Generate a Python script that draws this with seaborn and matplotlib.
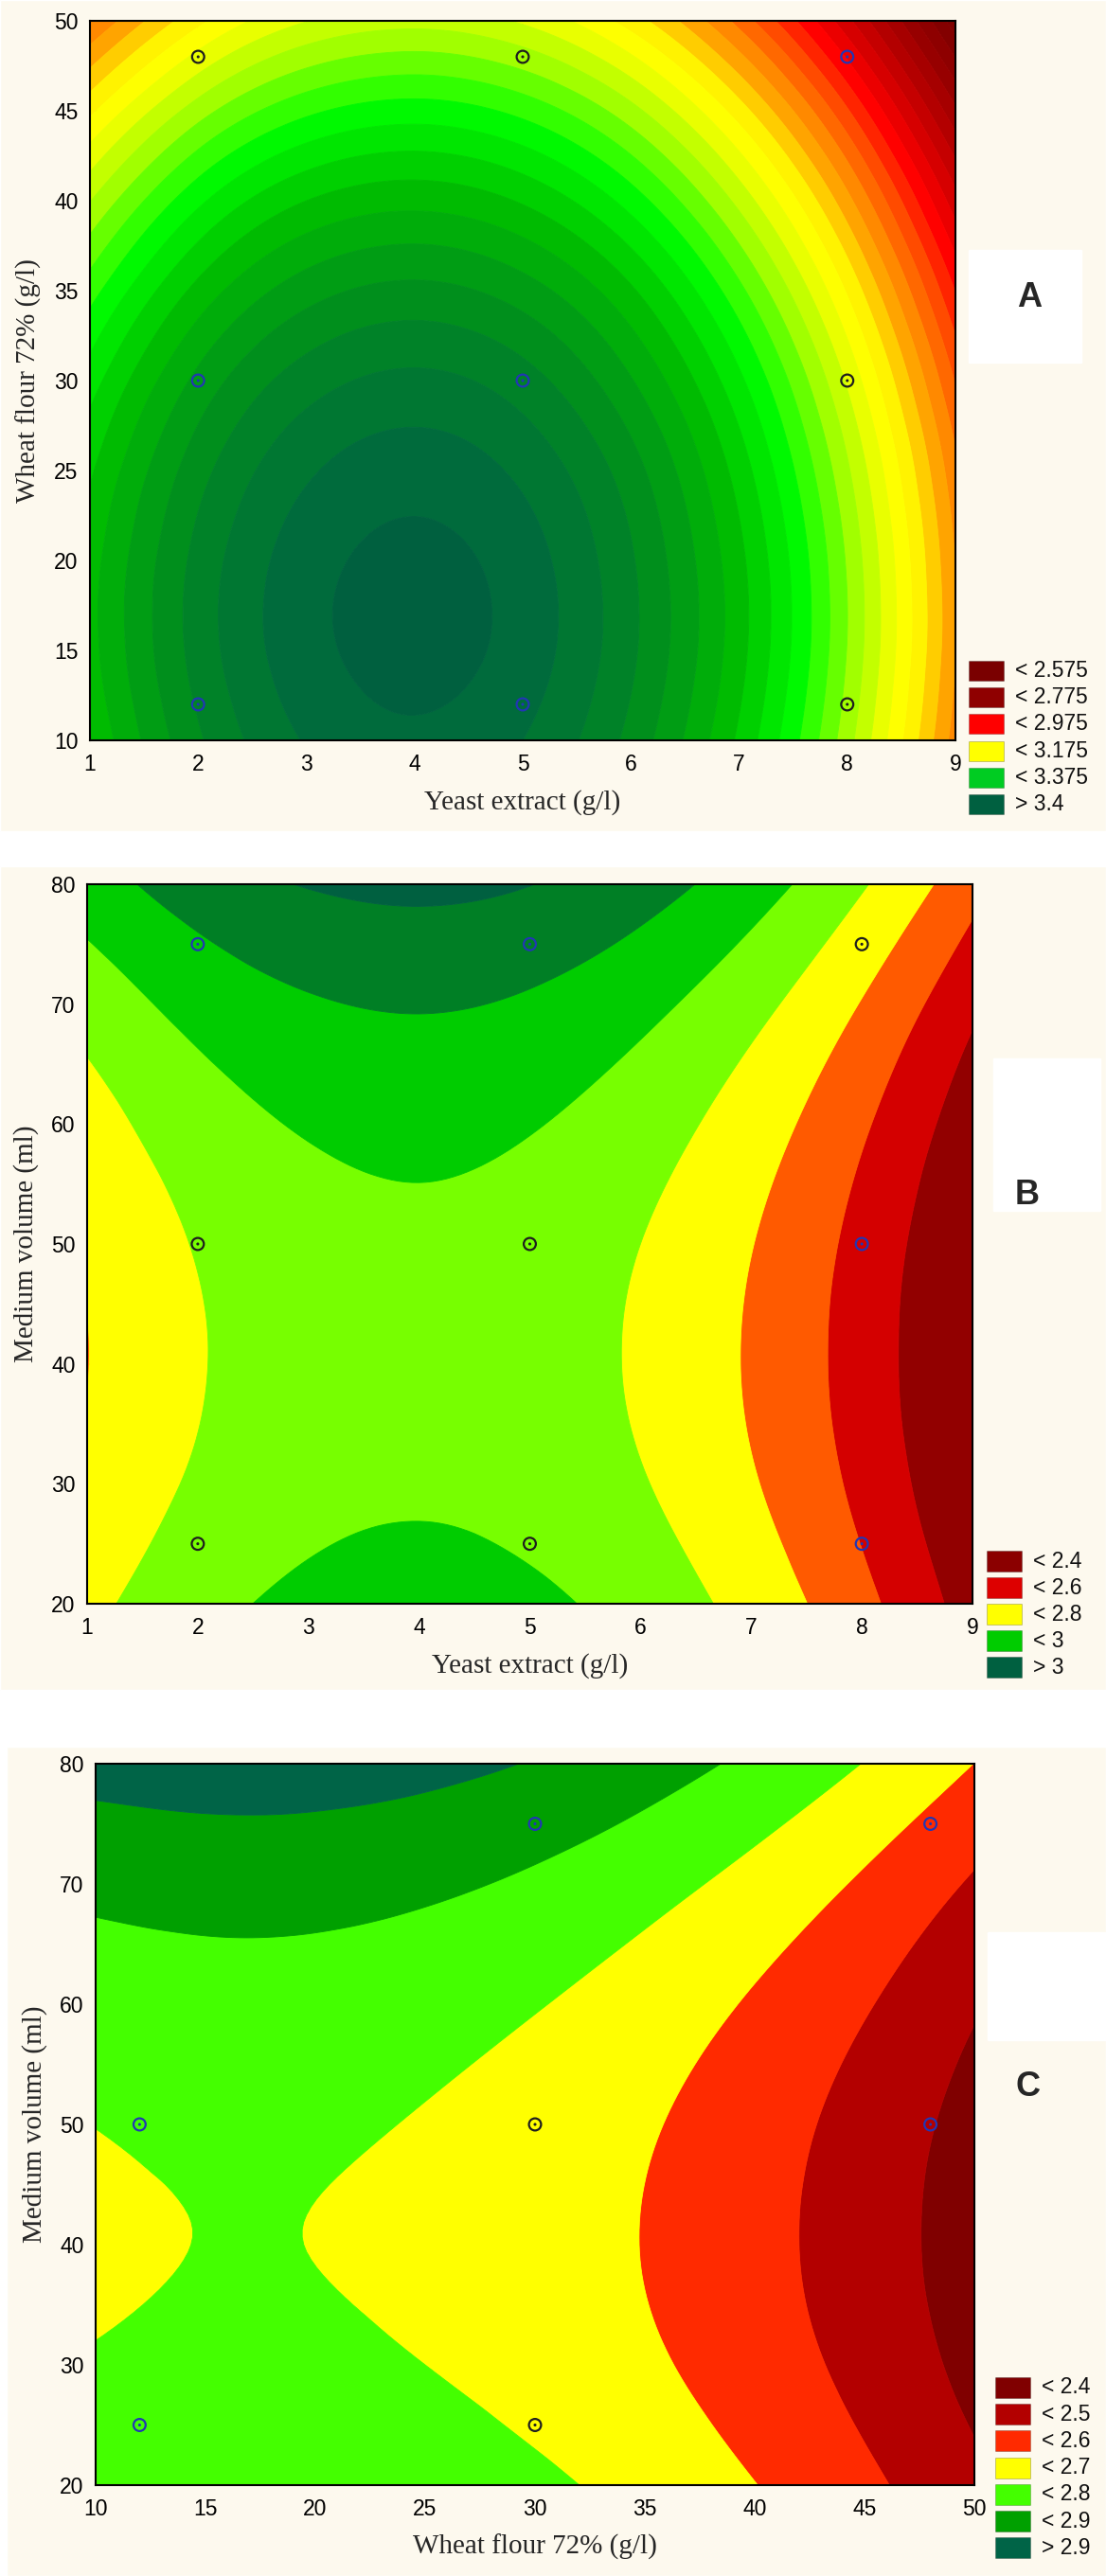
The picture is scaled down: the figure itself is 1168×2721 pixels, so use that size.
import numpy as np
import pandas as pd
import matplotlib
matplotlib.use("Agg")
import matplotlib.pyplot as plt
import matplotlib.tri as mtri
from matplotlib.colors import LinearSegmentedColormap
from matplotlib.patches import Rectangle
import seaborn as sns

# -----------------------------
# Panel A: yeast extract x wheat flour (fitted surface)
# -----------------------------
a_yeast = [1, 2, 3, 4, 5, 6, 7, 8, 9]
a_flour = [10, 15, 20, 25, 30, 35, 40, 45, 50]
a_z = [
    [3.227, 3.321, 3.377, 3.395, 3.375, 3.317, 3.220, 3.085, 2.913],
    [3.241, 3.335, 3.391, 3.409, 3.389, 3.330, 3.234, 3.099, 2.926],
    [3.239, 3.333, 3.389, 3.407, 3.387, 3.328, 3.232, 3.097, 2.924],
    [3.221, 3.315, 3.371, 3.389, 3.369, 3.311, 3.214, 3.079, 2.907],
    [3.188, 3.282, 3.338, 3.356, 3.336, 3.277, 3.181, 3.046, 2.873],
    [3.139, 3.233, 3.289, 3.307, 3.287, 3.229, 3.132, 2.997, 2.824],
    [3.074, 3.169, 3.225, 3.242, 3.222, 3.164, 3.067, 2.933, 2.760],
    [2.994, 3.088, 3.144, 3.162, 3.142, 3.084, 2.987, 2.853, 2.680],
    [2.898, 2.993, 3.049, 3.066, 3.046, 2.988, 2.891, 2.757, 2.584],
]
a_obs_x = [2, 5, 8, 2, 5, 8, 2, 5, 8]
a_obs_y = [48, 48, 48, 30, 30, 30, 12, 12, 12]
a_obs_side = ["below", "below", "above", "above", "above", "below", "above", "above", "below"]
a_legend = ["< 2.575", "< 2.775", "< 2.975", "< 3.175", "< 3.375", "> 3.4"]

# -----------------------------
# Panel B: yeast extract x medium volume
# -----------------------------
b_yeast = [1, 2, 3, 4, 5, 6, 7, 8, 9]
b_volume = [20, 30, 40, 50, 60, 70, 80]
b_z = [
    [2.672, 2.767, 2.823, 2.840, 2.820, 2.761, 2.663, 2.528, 2.354],
    [2.618, 2.713, 2.769, 2.786, 2.766, 2.707, 2.609, 2.474, 2.300],
    [2.598, 2.693, 2.749, 2.766, 2.746, 2.687, 2.589, 2.454, 2.280],
    [2.612, 2.706, 2.762, 2.780, 2.759, 2.700, 2.603, 2.467, 2.293],
    [2.659, 2.753, 2.809, 2.827, 2.806, 2.747, 2.650, 2.514, 2.340],
    [2.740, 2.834, 2.890, 2.908, 2.887, 2.828, 2.731, 2.595, 2.421],
    [2.855, 2.949, 3.005, 3.023, 3.002, 2.943, 2.846, 2.710, 2.536],
]
b_obs_x = [2, 5, 8, 2, 5, 8, 2, 5, 8]
b_obs_y = [75, 75, 75, 50, 50, 50, 25, 25, 25]
b_obs_side = ["above", "above", "below", "below", "below", "above", "below", "below", "above"]
b_legend = ["< 2.4", "< 2.6", "< 2.8", "< 3", "> 3"]

# -----------------------------
# Panel C: wheat flour x medium volume
# -----------------------------
c_flour = [10, 15, 20, 25, 30, 35, 40, 45, 50]
c_volume = [20, 30, 40, 50, 60, 70, 80]
c_z = [
    [2.760, 2.773, 2.771, 2.752, 2.718, 2.668, 2.602, 2.521, 2.423],
    [2.707, 2.721, 2.719, 2.700, 2.666, 2.616, 2.550, 2.469, 2.371],
    [2.688, 2.701, 2.699, 2.681, 2.647, 2.597, 2.531, 2.449, 2.351],
    [2.701, 2.714, 2.712, 2.694, 2.660, 2.610, 2.544, 2.462, 2.364],
    [2.747, 2.760, 2.758, 2.739, 2.705, 2.655, 2.589, 2.508, 2.410],
    [2.825, 2.838, 2.836, 2.818, 2.784, 2.734, 2.668, 2.586, 2.488],
    [2.936, 2.949, 2.947, 2.928, 2.894, 2.844, 2.778, 2.697, 2.599],
]
c_obs_x = [30, 48, 12, 30, 48, 12, 30]
c_obs_y = [75, 75, 50, 50, 50, 25, 25]
c_obs_side = ["above", "above", "above", "below", "above", "above", "below"]
c_legend = ["< 2.4", "< 2.5", "< 2.6", "< 2.7", "< 2.8", "< 2.9", "> 2.9"]

# -----------------------------
# Styling
# -----------------------------
W, H = 1168, 2721
CREAM = "#fdf9ee"
marker_pal = {"above": "#2236b4", "below": "#1e1e1e"}

sns.set_theme(style="ticks")
plt.rcParams["font.family"] = ["Liberation Sans", "DejaVu Sans"]

# Statistica-like band colours for panel A (many levels)
a_anchor = [
    (2.55, "#760000"), (2.6125, "#840000"), (2.6625, "#980000"), (2.7125, "#b40000"),
    (2.7625, "#d80000"), (2.8125, "#ff0000"), (2.8625, "#ff4a00"), (2.9125, "#ff8800"),
    (2.9375, "#ffa500"), (2.9625, "#ffcc00"), (2.9875, "#fff400"), (3.0125, "#ffff00"),
    (3.0375, "#e8ff00"), (3.0875, "#a0ff00"), (3.1375, "#30ff00"), (3.1625, "#00fa00"),
    (3.2375, "#00bc00"), (3.3125, "#008f1c"), (3.3875, "#006b3c"), (3.40, "#006a3c"),
]
a_pos = [min(max(round((z - 2.55) / 0.85, 6), 0.0), 1.0) for z, _ in a_anchor]
a_pos[0], a_pos[-1] = 0.0, 1.0
a_cmap = LinearSegmentedColormap.from_list("statA", list(zip(a_pos, [c for _, c in a_anchor])))
a_levels = np.r_[2.0, np.arange(2.575, 3.4001, 0.025), 3.6]
a_mids = (a_levels[:-1] + a_levels[1:]) / 2
a_mids[0] = 2.55
a_colors = [a_cmap(float(np.clip((m - 2.55) / 0.85, 0, 1))) for m in a_mids]
a_colors[-1] = "#00603f"
a_legend_colors = ["#7a0000", "#8f0000", "#ff0000", "#ffff00", "#00cc22", "#006040"]

b_levels = [1.0, 2.4, 2.5, 2.6, 2.7, 2.8, 2.9, 3.0, 4.0]
b_colors = ["#920000", "#d40000", "#ff5a00", "#ffff00", "#77ff00", "#00cc00", "#007f25", "#006040"]
b_legend_colors = ["#8b0000", "#dd0000", "#ffff00", "#00cc00", "#006040"]

c_levels = [1.0, 2.4, 2.5, 2.6, 2.7, 2.8, 2.9, 4.0]
c_colors = ["#800000", "#b30000", "#ff2a00", "#ffff00", "#44ff00", "#00a000", "#006447"]
c_legend_colors = c_colors


def smooth_surface(xs, ys, zgrid, subdiv=4):
    """Triangulate the regular grid in index space and let matplotlib refine it."""
    xs = np.asarray(xs, float)
    ys = np.asarray(ys, float)
    nx, ny = len(xs), len(ys)
    gi, gj = np.meshgrid(np.arange(nx, dtype=float), np.arange(ny, dtype=float))
    tris = []
    for j in range(ny - 1):
        for i in range(nx - 1):
            p = j * nx + i
            tris.append([p, p + 1, p + nx + 1])
            tris.append([p, p + nx + 1, p + nx])
    tri = mtri.Triangulation(gi.ravel(), gj.ravel(), np.array(tris))
    tri_ref, z_ref = mtri.UniformTriRefiner(tri).refine_field(np.asarray(zgrid).ravel(), subdiv=subdiv)
    x_ref = xs[0] + tri_ref.x * (xs[1] - xs[0])
    y_ref = ys[0] + tri_ref.y * (ys[1] - ys[0])
    return mtri.Triangulation(x_ref, y_ref, tri_ref.triangles), z_ref


def px_axes(fig, l, t, r, b):
    return fig.add_axes([l / W, 1 - b / H, (r - l) / W, (b - t) / H])


def fig_rect(fig, x0, y0, x1, y1, color, z=-10, **kw):
    fig.add_artist(Rectangle((x0 / W, 1 - y1 / H), (x1 - x0) / W, (y1 - y0) / H,
                             transform=fig.transFigure, facecolor=color,
                             zorder=z, **kw))


def draw_panel(fig, box, xs, ys, zgrid, levels, colors, obs, xticks, yticks, xlabel, ylabel):
    ax = px_axes(fig, *box)
    tri, zr = smooth_surface(xs, ys, zgrid)
    cs = ax.tricontourf(tri, zr, levels=levels, colors=colors, antialiased=True)
    # paint band edges in the band colour so no hairline seams show
    cs.set_edgecolor("face")
    cs.set_linewidth(0.6)

    # observed design points: open ring + small centre dot
    df = pd.DataFrame({"x": obs[0], "y": obs[1], "side": obs[2]})
    ax.scatter(df["x"], df["y"], s=85, facecolors="none",
               edgecolors=df["side"].map(marker_pal), linewidths=1.6, zorder=4)
    sns.scatterplot(data=df, x="x", y="y", hue="side", palette=marker_pal,
                    s=5, linewidth=0, legend=False, ax=ax, zorder=5)

    ax.set_xlim(xs[0], xs[-1])
    ax.set_ylim(ys[0], ys[-1])
    ax.set_xticks(xticks)
    ax.set_yticks(yticks)
    ax.tick_params(direction="in", top=True, right=True, length=6, width=1.3,
                   colors="black", labelsize=16.5)
    ax.tick_params(axis="x", pad=10)
    ax.tick_params(axis="y", pad=9)
    for s in ax.spines.values():
        s.set_linewidth(1.5)
        s.set_color("black")
        s.set_zorder(6)
    ax.set_xlabel(xlabel, fontsize=21, family=["Liberation Serif", "DejaVu Serif"], labelpad=11)
    ax.set_ylabel(ylabel, fontsize=21, family=["Liberation Serif", "DejaVu Serif"], labelpad=9)
    return ax


def draw_key(fig, x0, y0, labels, colors, pitch=28.2, bw=37, bh=22, gap=12):
    for i, (lab, col) in enumerate(zip(labels, colors)):
        top = y0 + i * pitch
        fig_rect(fig, x0, top, x0 + bw, top + bh, col, z=3,
                 edgecolor=(0, 0, 0, 0.25), linewidth=0.6)
        fig.text((x0 + bw + gap) / W, 1 - (top + bh / 2) / H, lab,
                 ha="left", va="center", fontsize=16.5, color="#111111")


def draw_tag(fig, box, letter, cx, cy):
    fig_rect(fig, *box, "white", z=-5)
    fig.text(cx / W, 1 - cy / H, letter, ha="center", va="center", fontsize=26,
             fontweight="bold", family=["Liberation Sans Narrow", "Liberation Sans"])


fig = plt.figure(figsize=(W / 100, H / 100), dpi=100, facecolor="white")

# cream panel backgrounds
fig_rect(fig, 0, 0, W, 878, CREAM)
fig_rect(fig, 0, 915, W, 1785, CREAM)
fig_rect(fig, 7, 1845, W, H, CREAM)

draw_panel(fig, (95, 22, 1009, 782), a_yeast, a_flour, a_z, a_levels, a_colors,
           (a_obs_x, a_obs_y, a_obs_side), a_yeast, a_flour,
           "Yeast extract (g/l)", "Wheat flour 72% (g/l)")
draw_key(fig, 1023, 698, a_legend, a_legend_colors, pitch=28.2, bh=21)
draw_tag(fig, (1023, 264, 1142, 383), "A", 1087, 314)

draw_panel(fig, (92, 934, 1027, 1694), b_yeast, b_volume, b_z, b_levels, b_colors,
           (b_obs_x, b_obs_y, b_obs_side), b_yeast, b_volume,
           "Yeast extract (g/l)", "Medium volume (ml)")
draw_key(fig, 1042, 1638, b_legend, b_legend_colors, pitch=28.0)
draw_tag(fig, (1049, 1118, 1162, 1279), "B", 1085, 1262)

draw_panel(fig, (101, 1863, 1029, 2625), c_flour, c_volume, c_z, c_levels, c_colors,
           (c_obs_x, c_obs_y, c_obs_side), c_flour, c_volume,
           "Wheat flour 72% (g/l)", "Medium volume (ml)")
draw_key(fig, 1051, 2511, c_legend, c_legend_colors, pitch=28.2)
draw_tag(fig, (1043, 2041, 1168, 2155), "C", 1086, 2205)

fig.savefig("out.png", dpi=100, facecolor="white")
